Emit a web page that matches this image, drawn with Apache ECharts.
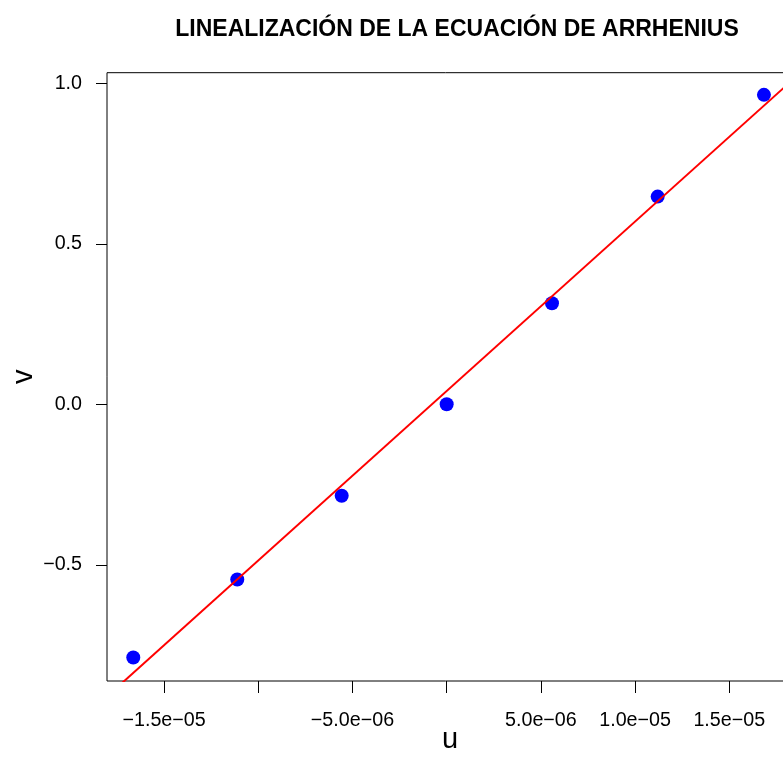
<!DOCTYPE html>
<html>
<head>
<meta charset="utf-8">
<script src="https://cdn.jsdelivr.net/npm/echarts@6/dist/echarts.min.js"></script>
<style>html,body{margin:0;padding:0;background:#fff;}#c{width:783px;height:775px;}</style>
</head>
<body>
<div id="c"></div>
<script>
// Data
var uValues = [-1.6635e-5, -1.1115e-5, -5.573e-6, 0, 5.589e-6, 1.12e-5, 1.684e-5];
var vValues = [-0.789, -0.546, -0.285, 0, 0.315, 0.647, 0.964];

var xTickValues = [-1.5e-5, -1.0e-5, -5.0e-6, 0, 5.0e-6, 1.0e-5, 1.5e-5];
var xLabelValues = [-1.5e-5, -5.0e-6, 5.0e-6, 1.0e-5, 1.5e-5];
var xLabelTexts = ['\u22121.5e\u221205', '\u22125.0e\u221206', '5.0e\u221206', '1.0e\u221205', '1.5e\u221205'];
var yTickValues = [-0.5, 0, 0.5, 1.0];
var yLabelTexts = ['\u22120.5', '0.0', '0.5', '1.0'];

var titleText = 'LINEALIZACIÓN DE LA ECUACIÓN DE ARRHENIUS';

// least-squares fit (abline(lm(v ~ u)))
var n = uValues.length, su = 0, sv = 0;
for (var i = 0; i < n; i++) { su += uValues[i]; sv += vValues[i]; }
var mu = su / n, mv = sv / n, sxy = 0, sxx = 0;
for (var i = 0; i < n; i++) { sxy += (uValues[i] - mu) * (vValues[i] - mv); sxx += (uValues[i] - mu) * (uValues[i] - mu); }
var slope = sxy / sxx, intercept = mv - slope * mu;

var xMin = -1.803e-5, xMax = 1.902e-5;
var yMin = -0.862, yMax = 1.033;
var fitLine = [[xMin, intercept + slope * xMin], [xMax, intercept + slope * xMax]];

var font = 'Liberation Sans, Arial, Helvetica, sans-serif';
var chart = echarts.init(document.getElementById('c'), null, {renderer: 'canvas'});
chart.setOption({
  animation: false,
  backgroundColor: '#ffffff',
  title: {
    text: titleText,
    left: 452, top: 13, textAlign: 'center',
    textStyle: {fontFamily: font, fontSize: 23, fontWeight: 'bold', color: '#000'}
  },
  grid: {
    left: 107, top: 72.7, width: 698, height: 608.3,
    outerBoundsMode: 'none', containLabel: false,
    show: true, borderColor: '#000', borderWidth: 1, backgroundColor: 'transparent'
  },
  xAxis: {
    type: 'value', min: xMin, max: xMax,
    name: 'u', nameLocation: 'middle', nameGap: 44, nameMoveOverlap: false,
    nameTextStyle: {fontFamily: font, fontSize: 29, color: '#000', padding: [0, 12, 0, 0]},
    axisLine: {show: false, onZero: false},
    splitLine: {show: false},
    axisTick: {show: true, inside: false, length: 12, customValues: xTickValues, lineStyle: {color: '#000', width: 1}},
    axisLabel: {
      show: true, margin: 30, customValues: xLabelValues,
      fontFamily: font, fontSize: 19.7, color: '#000',
      formatter: function (v) {
        for (var k = 0; k < xLabelValues.length; k++) if (Math.abs(xLabelValues[k] - v) < 1e-9) return xLabelTexts[k];
        return '';
      }
    }
  },
  yAxis: {
    type: 'value', min: yMin, max: yMax,
    name: 'v', nameLocation: 'middle', nameGap: 69, nameRotate: 90, nameMoveOverlap: false,
    nameTextStyle: {fontFamily: font, fontSize: 29, color: '#000'},
    axisLine: {show: false, onZero: false},
    splitLine: {show: false},
    axisTick: {show: true, inside: false, length: 11, customValues: yTickValues, lineStyle: {color: '#000', width: 1}},
    axisLabel: {
      show: true, margin: 25, customValues: yTickValues,
      fontFamily: font, fontSize: 19.7, color: '#000',
      formatter: function (v) {
        for (var k = 0; k < yTickValues.length; k++) if (Math.abs(yTickValues[k] - v) < 1e-9) return yLabelTexts[k];
        return '';
      }
    }
  },
  series: [
    {
      type: 'scatter',
      data: uValues.map(function (u, k) { return [u, vValues[k]]; }),
      symbol: 'circle', symbolSize: 14,
      itemStyle: {color: '#0000FF', opacity: 1},
      z: 2
    },
    {
      type: 'line',
      data: fitLine,
      symbol: 'none', clip: true,
      lineStyle: {color: '#FF0000', width: 2},
      z: 3
    }
  ]
});
</script>
</body>
</html>
